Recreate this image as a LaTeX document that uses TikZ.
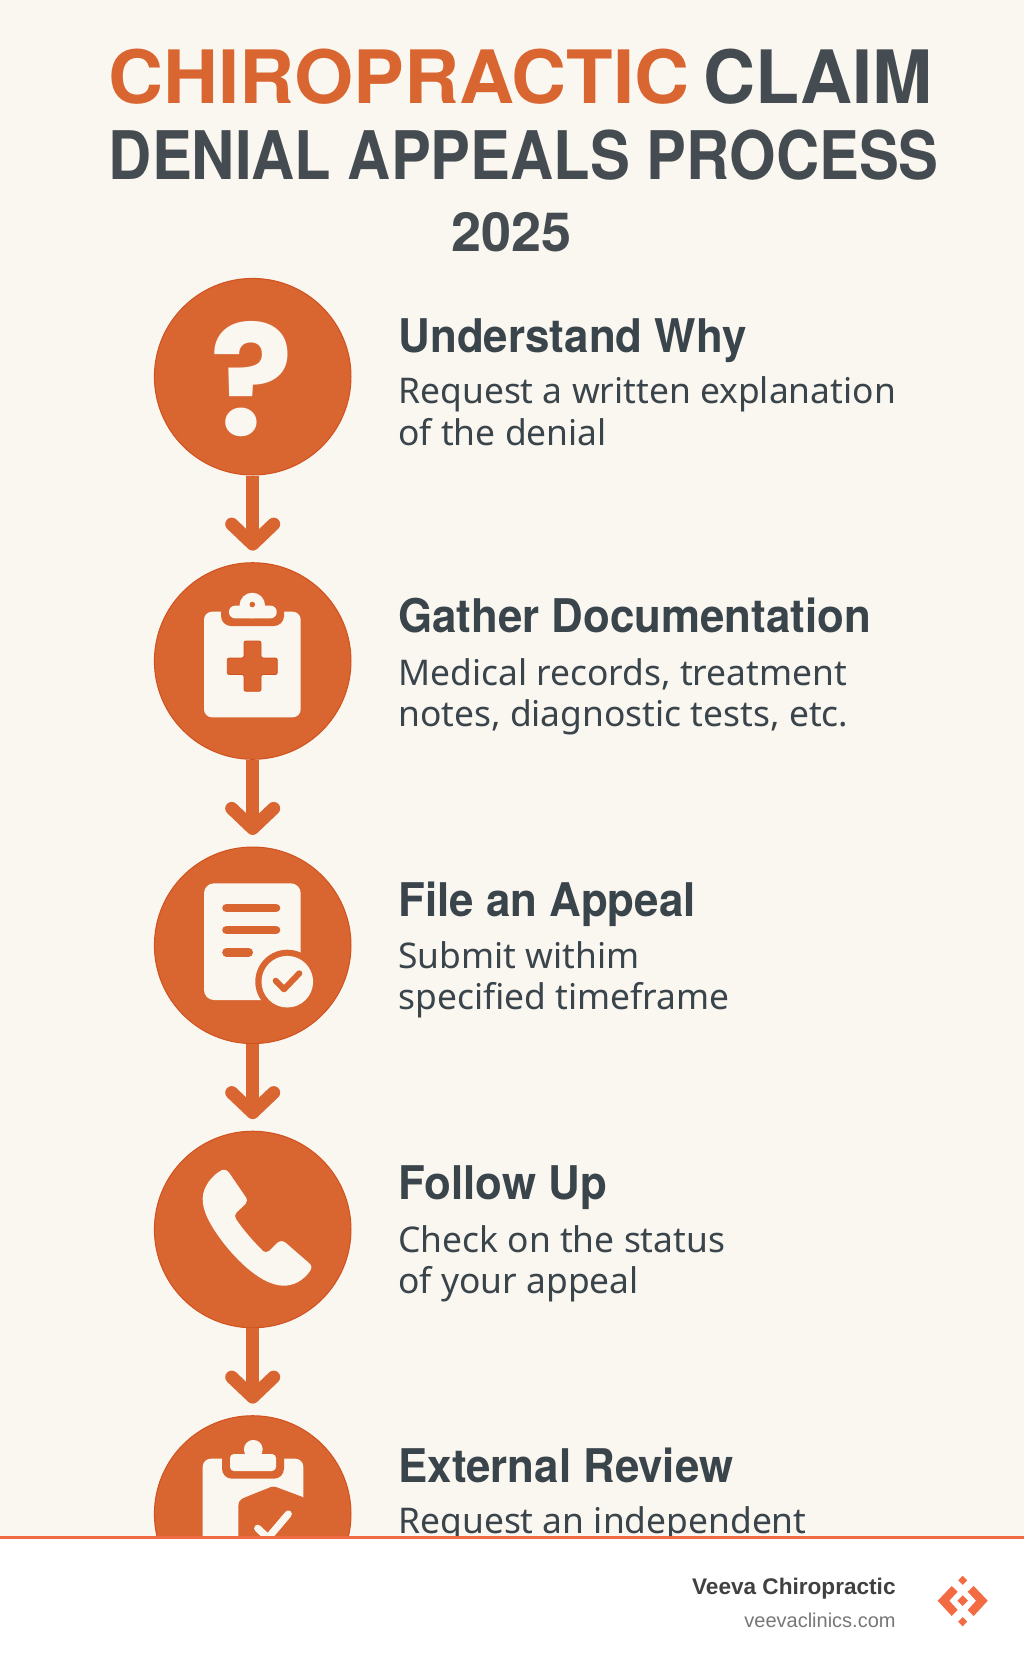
\documentclass[tikz,border=0pt]{standalone}
\usepackage{fontspec}
\usepackage{xcolor}
\usetikzlibrary{arrows.meta}
\usetikzlibrary{positioning}
\newfontfamily\titlefont{TeX Gyre Heros}
\newfontfamily\widefont[FakeStretch=1.035]{TeX Gyre Heros}
\newfontfamily\claimfont[FakeStretch=0.98]{TeX Gyre Heros}
\newfontfamily\narrowfont[FakeStretch=0.892]{TeX Gyre Heros}
\newfontfamily\headfont[FakeStretch=0.945]{TeX Gyre Heros}
\newfontfamily\askfont{Poppins}
\newfontfamily\bodyfont{Noto Sans}
\newfontfamily\footfont{Liberation Sans}
\definecolor{paper}{HTML}{FAF6F0}
\definecolor{rust}{HTML}{D96531}
\definecolor{rustedge}{HTML}{D0521F}
\definecolor{slate}{HTML}{3A444B}
\definecolor{titlegrey}{HTML}{454C51}
\definecolor{coral}{HTML}{F26B43}
\definecolor{footdark}{HTML}{404040}
\definecolor{footgrey}{HTML}{777777}
\tikzset{
    stepcircle/.style={circle,draw=rustedge,fill=rust,line width=0.5pt,minimum size=98.3pt,inner sep=0pt},
    flowline/.style={draw=rust,line width=6.5pt,shorten >=5.8pt,-{Straight Barb[round,length=10pt,width=21pt]}},
    titleline/.style={anchor=base west,inner sep=0pt,text=titlegrey},
    headline/.style={anchor=base west,inner sep=0pt,text=slate,font=\headfont\bfseries\fontsize{23.2}{28}\selectfont},
    bodytext/.style={anchor=north west,inner sep=0pt,align=left,text=slate,font=\bodyfont\fontsize{17.7}{20.6}\selectfont},
    iconpart/.style={fill=paper},
    iconcut/.style={fill=rust},
}
\begin{document}
\begin{tikzpicture}[x=0.5pt,y=-0.5pt]
    \useasboundingbox (0,0) rectangle (1024,1666);
    \fill[paper] (0,0) rectangle (1024,1666);

    % title
    \node[titleline,font=\titlefont\bfseries\fontsize{36.8}{40}\selectfont] (title1) at (108,103.3)
        {\textcolor{rust}{\widefont\bfseries CHIROPRACTIC} \hspace*{-3.2pt}{\claimfont\bfseries CLAIM}};
    \node[titleline,font=\narrowfont\bfseries\fontsize{33.5}{40}\selectfont] (title2) at (108.5,179.3) {DENIAL APPEALS PROCESS};
    \node[titleline,font=\titlefont\bfseries\fontsize{27}{30}\selectfont] (year) at (451.5,251) {2025};

    % circles and arrows
    \foreach \k/\cy in {1/376.7,2/661,3/945.3,4/1229.5,5/1514}{
    \node[stepcircle] (step\k) at (252.7,\cy) {};
    }
    \foreach \k [count=\nodename from 2] in {1,2,3,4}{
    \draw[flowline] (step\k) -- (step\nodename);
    }

    % question mark
    \node[text=paper,inner sep=0pt,font=\askfont\bfseries\fontsize{77}{80}\selectfont] (ask) at (252,378.7) {?};

    % clipboard with cross
    \fill[iconpart,rounded corners=4pt] (204,611.7) rectangle (300.7,717.3);
    \fill[iconcut,rounded corners=5pt] (221,596) rectangle (284,626);
    \fill[iconpart,rounded corners=3pt] (229,605.7) rectangle (276.7,618.3);
    \fill[iconpart] (252.3,605.5) circle (6.4pt);
    \fill[rust] (252.3,604.5) circle (1.4pt);
    \filldraw[iconcut,draw=rustedge,line width=0.4pt,rounded corners=1pt] (244,641) -- (261,641) -- (261,658) -- (277.3,658) -- (277.3,674.5) -- (261,674.5) -- (261,691.3) -- (244,691.3) -- (244,674.5) -- (227.3,674.5) -- (227.3,658) -- (244,658) -- cycle;

    % document with check
    \fill[iconpart,rounded corners=5pt] (204,883.3) rectangle (300.7,1000);
    \foreach \ly/\lx in {908/280,930/280,952.3/252.7}{
    \draw[rust,line width=4.3pt,line cap=round] (226.5,\ly) -- (\lx-4,\ly);
    }
    \fill[rust] (287.3,981.7) circle (16pt);
    \fill[iconpart] (287.3,981.7) circle (12.9pt);
    \draw[rust,line width=3pt,line cap=round,line join=round] (275.7,980.7) -- (284,989.3) -- (299.3,973.3);

    % phone
    \fill[iconpart] (222,1170) .. controls (226,1169) and (228,1171) .. (230,1174) -- (245,1196)
        .. controls (247.5,1199) and (247.5,1202) .. (245.5,1204) -- (236.5,1212.5)
        .. controls (234.5,1214.5) and (234.5,1217) .. (236,1219)
        .. controls (244,1231) and (254,1242) .. (263,1251)
        .. controls (265,1252.5) and (267,1252.5) .. (269,1251) -- (277,1243)
        .. controls (280,1240.5) and (283,1240.5) .. (286,1243) -- (309,1263)
        .. controls (312,1265.5) and (312,1268) .. (310,1271)
        .. controls (303,1281) and (293,1286) .. (283,1285.7)
        .. controls (262,1285) and (238,1262) .. (222,1241)
        .. controls (210,1225) and (202,1210) .. (202.7,1198)
        .. controls (203,1187) and (212,1175) .. (222,1170) -- cycle;

    % clipboard with shield
    \fill[iconpart,rounded corners=4pt] (202.7,1458.7) rectangle (303.3,1560);
    \fill[iconcut,rounded corners=5pt] (222,1440) rectangle (284,1478.7);
    \fill[iconpart,rounded corners=2pt] (230,1454) rectangle (276,1471);
    \fill[iconpart] (253.3,1449.3) circle (4.7pt);
    \fill[iconcut,rounded corners=1.5pt] (273.3,1486) -- (304,1497.5) -- (320,1510) -- (320,1560) -- (238.3,1560) -- (238.3,1503) -- (241,1499) -- cycle;
    \draw[paper,line width=3.6pt,line cap=round,line join=round] (257.7,1528.3) -- (268,1538) -- (288.3,1514);

    % steps
    \node[headline] (head1) at (398,352.5) {Understand Why};
    \node[bodytext] (body1) at (398,376.5) {Request a written explanation\\of the denial};
    \node[headline] (head2) at (398,632.5) {Gather Documentation};
    \node[bodytext] (body2) at (398,658) {Medical records, treatment\\notes, diagnostic tests, etc.};
    \node[headline] (head3) at (398,916.5) {File an Appeal};
    \node[bodytext] (body3) at (398,941.3) {Submit withim\\specified timeframe};
    \node[headline] (head4) at (398,1199.5) {Follow Up};
    \node[bodytext] (body4) at (398,1225.3) {Check on the status\\of your appeal};
    \node[headline] (head5) at (398,1482.5) {External Review};
    \node[bodytext] (body5) at (398,1506.3) {Request an independent};

    % footer
    \fill[white] (0,1536) rectangle (1024,1666);
    \fill[coral] (0,1535.7) rectangle (1024,1538.7);
    \node[anchor=base east,inner sep=0pt,text=footdark,font=\footfont\bfseries\fontsize{11.3}{14}\selectfont] (brand) at (896,1594) {Veeva Chiropractic};
    \node[anchor=base east,inner sep=0pt,text=footgrey,font=\footfont\fontsize{10}{12}\selectfont] (site) at (896,1627) {veevaclinics.com};

    % logo
    \begin{scope}[shift={(1,0)}]
    \fill[coral] (961.7,1575.7) -- (966.2,1580.3) -- (961.7,1584.9) -- (957.2,1580.3) -- cycle;
    \fill[coral] (961.7,1617) -- (966.2,1621.7) -- (961.7,1626.3) -- (957.2,1621.7) -- cycle;
    \fill[coral] (961.7,1595.4) -- (967,1600.7) -- (961.7,1606) -- (956.4,1600.7) -- cycle;
    \fill[coral] (950.7,1586) -- (936.7,1600.7) -- (950.7,1616) -- (956.7,1610) -- (948.3,1600.7) -- (956.7,1591.7) -- cycle;
    \fill[coral] (972.7,1586) -- (986.7,1600.7) -- (972.7,1616) -- (966.7,1610) -- (975.1,1600.7) -- (966.7,1591.7) -- cycle;
    \end{scope}
\end{tikzpicture}
\end{document}
